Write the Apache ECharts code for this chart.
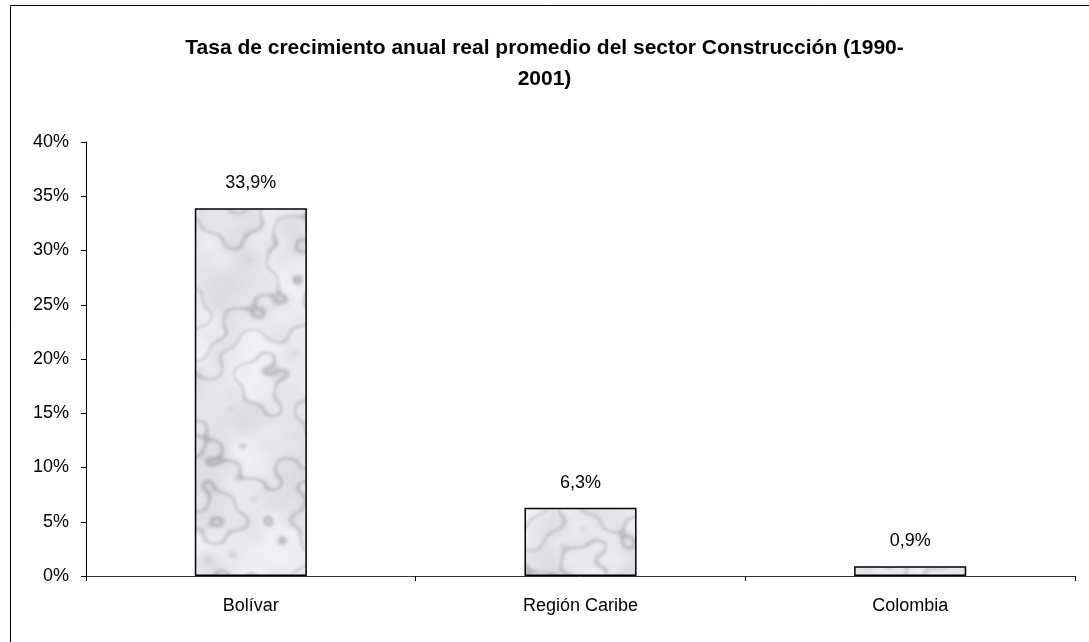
<!DOCTYPE html>
<html>
<head>
<meta charset="utf-8">
<script src="https://cdn.jsdelivr.net/npm/echarts@6/dist/echarts.min.js"></script>
<style>
  html, body { margin: 0; padding: 0; background: #fff; }
  #chart { width: 1089px; height: 642px; }
</style>
</head>
<body>
<div id="chart"></div>
<script>
// data
var categories = ['Bolívar', 'Región Caribe', 'Colombia'];
var growthValues = [33.9, 6.3, 0.9];
var yTicks = [0, 5, 10, 15, 20, 25, 30, 35, 40];

var FONT = '"Liberation Sans", Arial, sans-serif';

// soft grey marble fill for the bars (deterministic, no random)
// one canvas-sized tile so there is no seam inside a bar
function marbleTexture() {
    var w = 1089, h = 642;
    var c = document.createElement('canvas');
    c.width = w; c.height = h;
    var ctx = c.getContext('2d');
    var img = ctx.createImageData(w, h);
    for (var y = 0; y < h; y++) {
        for (var x = 0; x < w; x++) {
            var t = Math.sin(x * 0.031 + y * 0.017) * 1.8
                  + Math.sin(x * 0.073 - y * 0.029) * 1.1
                  + Math.sin(y * 0.047 + x * 0.011) * 1.4
                  + Math.sin((x - y) * 0.13) * 0.6
                  + Math.sin((x * 0.6 + y) * 0.21) * 0.4;
            var v = Math.abs(Math.sin(x * 0.02 + y * 0.037 + t));
            var vein = Math.pow(1 - v, 6);
            var cloud = 0.5 + 0.5 * Math.sin(x * 0.025 - y * 0.012 + t * 0.8);
            var cloud2 = 0.5 + 0.5 * Math.sin(x * 0.06 + y * 0.045 - t * 0.5);
            var l = 240 - cloud * 12 - cloud2 * 8 - vein * 60;
            var i = (y * w + x) * 4;
            img.data[i] = l;
            img.data[i + 1] = l + 1;
            img.data[i + 2] = l + 4;
            img.data[i + 3] = 255;
        }
    }
    ctx.putImageData(img, 0, 0);
    var out = document.createElement('canvas');
    out.width = w; out.height = h;
    var octx = out.getContext('2d');
    octx.filter = 'blur(1.5px)';
    octx.drawImage(c, 0, 0);
    return out;
}

var chart = echarts.init(document.getElementById('chart'));
var option = {
    backgroundColor: '#fff',
    animation: false,
    title: {
        text: 'Tasa de crecimiento anual real promedio del sector Construcción (1990-\n2001)',
        left: 'center',
        top: 33,
        padding: 0,
        textStyle: {
            fontFamily: FONT,
            fontSize: 21,
            fontWeight: 'bold',
            color: '#000',
            lineHeight: 31
        }
    },
    graphic: [{
        type: 'rect',
        shape: { x: 10.5, y: 5.5, width: 1200, height: 800 },
        style: { fill: 'none', stroke: '#000', lineWidth: 1 },
        silent: true
    }],
    grid: {
        left: 86,
        right: 14,
        top: 142,
        bottom: 66
    },
    xAxis: {
        type: 'category',
        data: categories,
        axisLine: { lineStyle: { color: '#333', width: 1 } },
        axisTick: { show: true, length: 5, lineStyle: { color: '#000' } },
        axisLabel: {
            margin: 21,
            fontFamily: FONT,
            fontSize: 18,
            color: '#000'
        }
    },
    yAxis: {
        type: 'value',
        min: yTicks[0],
        max: yTicks[yTicks.length - 1],
        interval: yTicks[1] - yTicks[0],
        axisLine: { show: true, lineStyle: { color: '#000', width: 1 } },
        axisTick: { show: true, length: 5, lineStyle: { color: '#000' } },
        splitLine: { show: false },
        axisLabel: {
            margin: 17,
            fontFamily: FONT,
            fontSize: 18,
            color: '#000',
            formatter: function (v) { return v + '%'; }
        }
    },
    series: [{
        type: 'bar',
        data: growthValues,
        barWidth: '34%',
        itemStyle: {
            color: { image: marbleTexture(), repeat: 'no-repeat' },
            borderColor: '#000',
            borderWidth: 1.5
        },
        label: {
            show: true,
            position: 'top',
            distance: 16,
            fontFamily: FONT,
            fontSize: 18,
            color: '#000',
            formatter: function (p) {
                return p.value.toFixed(1).replace('.', ',') + '%';
            }
        }
    }]
};
chart.setOption(option);
</script>
</body>
</html>
